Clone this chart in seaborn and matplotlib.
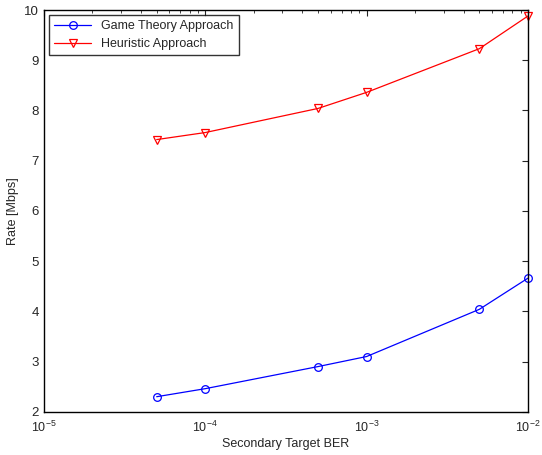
import matplotlib.pyplot as plt
import seaborn as sns
import numpy as np
import pandas as pd

# datos
ber = [5e-5, 1e-4, 5e-4, 1e-3, 5e-3, 1e-2]
rate_game = [2.30, 2.46, 2.90, 3.10, 4.04, 4.66]
rate_heur = [7.42, 7.56, 8.04, 8.36, 9.23, 9.88]

sns.set_style("white")
plt.rcParams['font.family'] = ['Liberation Sans', 'DejaVu Sans']
plt.rcParams['mathtext.default'] = 'regular'

fig, ax = plt.subplots(figsize=(5.42, 4.55), dpi=100)
fig.subplots_adjust(left=0.081, right=0.974, top=0.978, bottom=0.095)

df = pd.DataFrame({'ber': ber * 2,
                   'rate': rate_game + rate_heur,
                   'serie': ['Game Theory Approach'] * 6 + ['Heuristic Approach'] * 6})

sns.lineplot(data=df, x='ber', y='rate', hue='serie', style='serie',
             palette=['blue', 'red'], markers=['o', 'v'], dashes=False,
             markerfacecolor='none', markersize=5.5, linewidth=0.9,
             markeredgewidth=0.9, ax=ax)
for line, c in zip(ax.get_lines(), ['blue', 'red']):
    line.set_markeredgecolor(c)
    line.set_clip_on(False)

ax.set_xscale('log')
ax.set_xlim(1e-5, 1e-2)
ax.set_ylim(2, 10)
ax.set_yticks(np.arange(2, 11, 1))
ax.set_xticks([1e-5, 1e-4, 1e-3, 1e-2])
ax.set_xticklabels(['$10^{-5}$', '$10^{-4}$', '$10^{-3}$', '$10^{-2}$'])
ax.set_xlabel('Secondary Target BER', fontsize=9, labelpad=2)
ax.set_ylabel('Rate [Mbps]', fontsize=9)
ax.tick_params(which='both', direction='in', top=True, right=True, labelsize=9.5)
ax.tick_params(axis='x', which='major', pad=6, labelsize=9)
ax.tick_params(which='major', length=4)
ax.tick_params(which='minor', length=2)
for s in ax.spines.values():
    s.set_linewidth(1.0)
    s.set_color('black')

leg = ax.legend(loc='upper left', fontsize=9, frameon=True, fancybox=False,
                borderaxespad=0.4, handlelength=3)
leg.get_frame().set_edgecolor('black')
leg.get_frame().set_linewidth(1.0)
for h, c in zip(leg.get_lines(), ['blue', 'red']):
    h.set_markerfacecolor('none')
    h.set_markeredgecolor(c)

plt.savefig('out.png', dpi=100)
